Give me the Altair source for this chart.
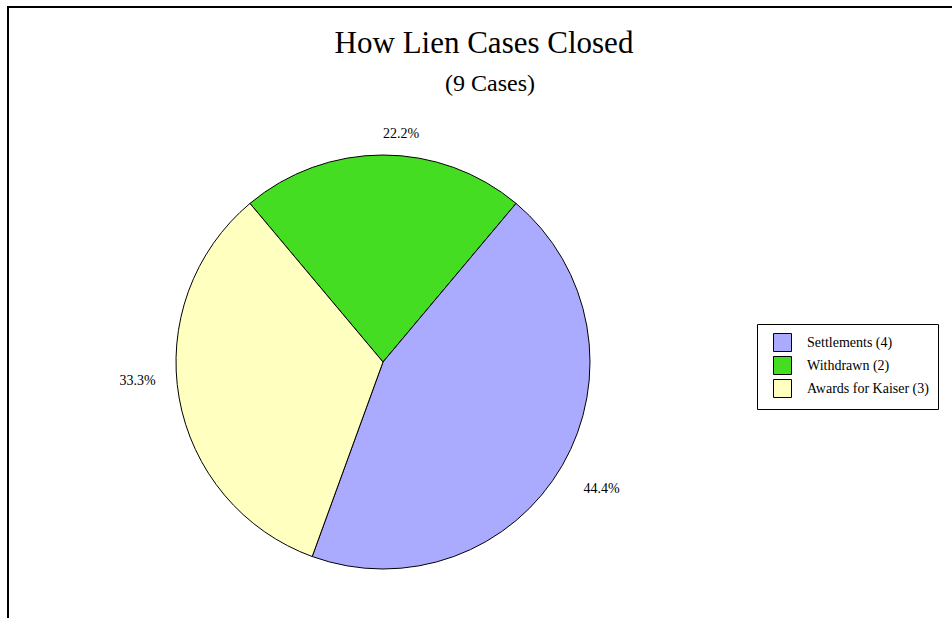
import math
import altair as alt
import pandas as pd

# ---- data ----
categories = ["Withdrawn", "Settlements", "Awards for Kaiser"]
counts = [2, 4, 3]
legend_order = ["Settlements", "Withdrawn", "Awards for Kaiser"]
legend_colors = ["#AAAAFF", "#44DD22", "#FFFFC0"]
title_text = "How Lien Cases Closed"
subtitle_text = "(9 Cases)"

total = sum(counts)
count_of = dict(zip(categories, counts))
df = pd.DataFrame({
    "category": categories,
    "count": counts,
    "slice_order": list(range(len(categories))),
})
df["legend_label"] = [f"{c} ({n})" for c, n in zip(categories, counts)]
df["pct"] = [f"{n / total * 100:.1f}%" for n in counts]
legend_labels = [f"{c} ({count_of[c]})" for c in legend_order]

SERIF = "Liberation Serif"
CX, CY, R = 383, 362, 207
start = -math.radians(40)
theta_scale = alt.Scale(domain=[0, total], range=[start, start + 2 * math.pi])

base = alt.Chart(df)

pie = base.mark_arc(outerRadius=R, stroke="black", strokeWidth=1).encode(
    theta=alt.Theta("count:Q", stack=True, scale=theta_scale),
    order=alt.Order("slice_order:Q"),
    color=alt.Color(
        "legend_label:N",
        scale=alt.Scale(domain=legend_labels, range=legend_colors),
        sort=legend_labels,
        title=None,
        legend=alt.Legend(
            orient="none", legendX=757, legendY=324,
            fillColor="white", strokeColor="black", padding=9,
            symbolType="square", symbolSize=324, symbolStrokeColor="black",
            symbolStrokeWidth=1, symbolOpacity=1,
            labelFont=SERIF, labelFontSize=14, labelColor="black",
            rowPadding=0, symbolOffset=7, labelOffset=15, labelLimit=300,
        ),
    ),
    x=alt.value(CX),
    y=alt.value(CY),
)

labels_base = base.transform_window(
    cum="sum(count)", sort=[alt.SortField("slice_order")], frame=[None, 0]
).transform_calculate(mid="datum.cum - datum.count / 2")


def label_layer(cat, radius, align, dx, dy):
    return labels_base.transform_filter(alt.datum.category == cat).mark_text(
        radius=radius, align=align, baseline="middle", dx=dx, dy=dy,
        font=SERIF, fontSize=14, color="black",
    ).encode(
        theta=alt.Theta("mid:Q", scale=theta_scale, stack=None),
        text="pct:N",
        x=alt.value(CX),
        y=alt.value(CY),
    )


lab_w = label_layer("Withdrawn", 228, "left", 0, 0)
lab_s = label_layer("Settlements", 235, "left", -3, 9)
lab_a = label_layer("Awards for Kaiser", 235, "right", 4, -22)

frame_df = pd.DataFrame({"k": [0]})
border = alt.Chart(frame_df).mark_rect(filled=False, stroke="black", strokeWidth=2).encode(
    x=alt.value(8), y=alt.value(7), x2=alt.value(1400), y2=alt.value(1400)
)

title_df = pd.DataFrame({"t": [title_text]})
sub_df = pd.DataFrame({"t": [subtitle_text]})
title = alt.Chart(title_df).mark_text(font=SERIF, fontSize=31, color="black", baseline="alphabetic").encode(
    text="t:N", x=alt.value(484), y=alt.value(53)
)
subtitle = alt.Chart(sub_df).mark_text(font=SERIF, fontSize=24, color="black", baseline="alphabetic").encode(
    text="t:N", x=alt.value(490), y=alt.value(91)
)

chart = alt.layer(border, pie, lab_w, lab_s, lab_a, title, subtitle).properties(
    width=952, height=618, padding=0, autosize=alt.AutoSizeParams(type="none"),
    background="white",
).configure_view(strokeOpacity=0)

chart.save("out.html", embed_options={"renderer": "svg", "actions": False})
